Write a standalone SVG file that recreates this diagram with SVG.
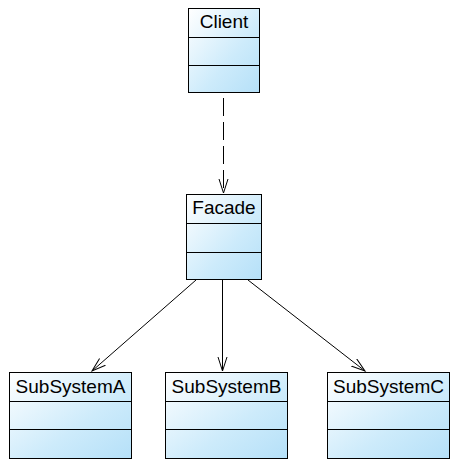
<svg xmlns="http://www.w3.org/2000/svg" width="454" height="464" viewBox="0 0 454 464">
<style>
.box{stroke:#000;stroke-width:1;fill:url(#g)}
.sep{stroke:#000;stroke-width:1}
.t{font-family:"Liberation Sans",Arial,sans-serif;font-size:19px;fill:#000;text-anchor:middle}
.c{stroke:#000;stroke-width:1;fill:none}
</style>
<defs>
<linearGradient id="g" x1="0" y1="0" x2="1" y2="1">
<stop offset="0" stop-color="#ffffff"/>
<stop offset="0.6" stop-color="#cdebfb"/>
<stop offset="1" stop-color="#b5e0f8"/>
</linearGradient>
<marker id="a" markerWidth="16" markerHeight="12" refX="14" refY="5" orient="auto" markerUnits="userSpaceOnUse">
<path d="M0,0.5 L14,5 L0,9.5" fill="none" stroke="#000" stroke-width="1"/>
</marker>
</defs>
<rect width="454" height="464" fill="#fff"/>
<g id="client">
<rect class="box" x="188.5" y="8.5" width="71" height="84"/>
<line class="sep" x1="188.5" y1="37.5" x2="259.5" y2="37.5"/>
<line class="sep" x1="188.5" y1="65.5" x2="259.5" y2="65.5"/>
<text class="t" x="224" y="28">Client</text>
</g>
<g id="facade">
<rect class="box" x="186.5" y="194.5" width="75" height="85"/>
<line class="sep" x1="186.5" y1="223.5" x2="261.5" y2="223.5"/>
<line class="sep" x1="186.5" y1="252.5" x2="261.5" y2="252.5"/>
<text class="t" x="224" y="214">Facade</text>
</g>
<g id="subsystemA">
<rect class="box" x="9.5" y="372.5" width="122" height="86"/>
<line class="sep" x1="9.5" y1="401.5" x2="131.5" y2="401.5"/>
<line class="sep" x1="9.5" y1="429.5" x2="131.5" y2="429.5"/>
<text class="t" x="70.5" y="393">SubSystemA</text>
</g>
<g id="subsystemB">
<rect class="box" x="165.5" y="372.5" width="122" height="86"/>
<line class="sep" x1="165.5" y1="401.5" x2="287.5" y2="401.5"/>
<line class="sep" x1="165.5" y1="429.5" x2="287.5" y2="429.5"/>
<text class="t" x="226.5" y="393">SubSystemB</text>
</g>
<g id="subsystemC">
<rect class="box" x="327.5" y="372.5" width="122" height="86"/>
<line class="sep" x1="327.5" y1="401.5" x2="449.5" y2="401.5"/>
<line class="sep" x1="327.5" y1="429.5" x2="449.5" y2="429.5"/>
<text class="t" x="388.5" y="393">SubSystemC</text>
</g>
<g id="connectors">
<line class="c" x1="223.5" y1="98" x2="223.5" y2="193" stroke-dasharray="18,6" marker-end="url(#a)"/>
<line class="c" x1="196" y1="280" x2="92" y2="371" marker-end="url(#a)"/>
<line class="c" x1="222.5" y1="280" x2="222.5" y2="371" marker-end="url(#a)"/>
<line class="c" x1="248" y1="280" x2="365" y2="371" marker-end="url(#a)"/>
</g>
</svg>
